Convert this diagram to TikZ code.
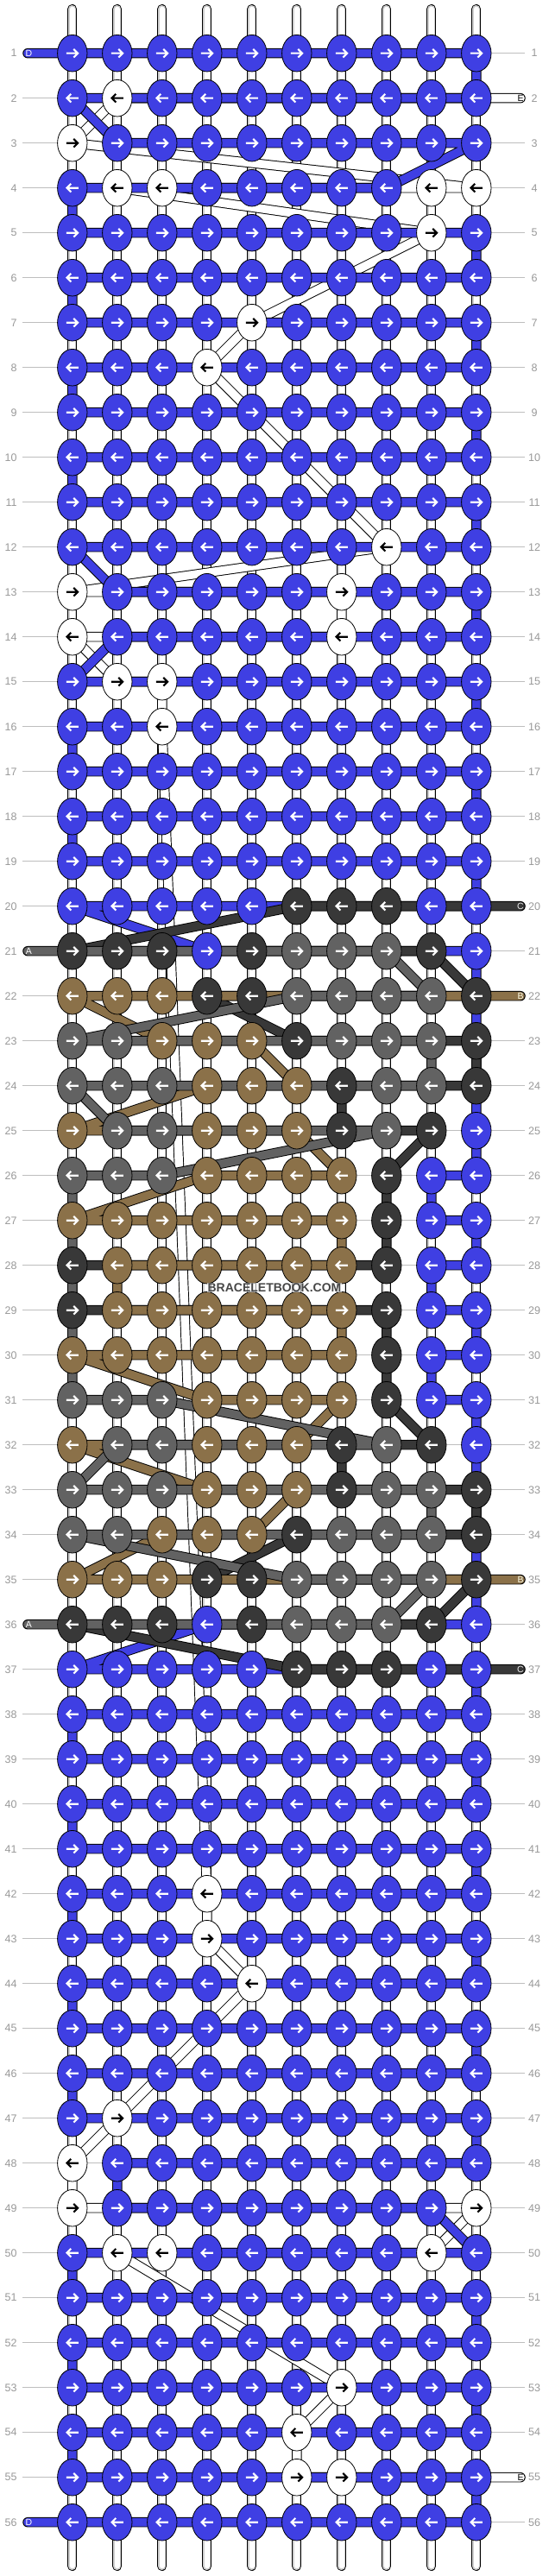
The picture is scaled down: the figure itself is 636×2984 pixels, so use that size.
\documentclass[tikz,border=0pt]{standalone}
\usepackage{fontspec}
\setmainfont{Liberation Sans}
\usetikzlibrary{shapes.geometric}
\definecolor{cB}{HTML}{3F3FE3}
\definecolor{cK}{HTML}{383838}
\definecolor{cG}{HTML}{626262}
\definecolor{cN}{HTML}{8B7149}
\definecolor{lblgray}{HTML}{999999}
\definecolor{guidegray}{HTML}{BEBEBE}
\definecolor{warpgray}{HTML}{CFCFCF}
\definecolor{wmgray}{HTML}{474747}
\makeatletter
\newcounter{kcol}
\newcommand\setrow[2]{\setcounter{kcol}{0}\def\krow{#1}\@tfor\kch:=#2\do{\stepcounter{kcol}\expandafter\xdef\csname kc-\krow-\arabic{kcol}\endcsname{\kch}}}
\makeatother
\setrow{1}{bbbbbbbbbb}
\setrow{2}{bwbbbbbbbb}
\setrow{3}{wbbbbbbbbb}
\setrow{4}{bwwbbbbbww}
\setrow{5}{bbbbbbbbwb}
\setrow{6}{bbbbbbbbbb}
\setrow{7}{bbbbwbbbbb}
\setrow{8}{bbbwbbbbbb}
\setrow{9}{bbbbbbbbbb}
\setrow{10}{bbbbbbbbbb}
\setrow{11}{bbbbbbbbbb}
\setrow{12}{bbbbbbbwbb}
\setrow{13}{wbbbbbwbbb}
\setrow{14}{wbbbbbwbbb}
\setrow{15}{bwwbbbbbbb}
\setrow{16}{bbwbbbbbbb}
\setrow{17}{bbbbbbbbbb}
\setrow{18}{bbbbbbbbbb}
\setrow{19}{bbbbbbbbbb}
\setrow{20}{bbbbbkkkbb}
\setrow{21}{kkkbkgggkb}
\setrow{22}{nnnkkggggk}
\setrow{23}{ggnnnkgggk}
\setrow{24}{gggnnnkggk}
\setrow{25}{nggnnnkgkb}
\setrow{26}{gggnnnnkbb}
\setrow{27}{nnnnnnnkbb}
\setrow{28}{knnnnnnkbb}
\setrow{29}{knnnnnnkbb}
\setrow{30}{nnnnnnnkbb}
\setrow{31}{gggnnnnkbb}
\setrow{32}{nggnnnkgkb}
\setrow{33}{gggnnnkggk}
\setrow{34}{ggnnnkgggk}
\setrow{35}{nnnkkggggk}
\setrow{36}{kkkbkgggkb}
\setrow{37}{bbbbbkkkbb}
\setrow{38}{bbbbbbbbbb}
\setrow{39}{bbbbbbbbbb}
\setrow{40}{bbbbbbbbbb}
\setrow{41}{bbbbbbbbbb}
\setrow{42}{bbbwbbbbbb}
\setrow{43}{bbbwbbbbbb}
\setrow{44}{bbbbwbbbbb}
\setrow{45}{bbbbbbbbbb}
\setrow{46}{bbbbbbbbbb}
\setrow{47}{bwbbbbbbbb}
\setrow{48}{wbbbbbbbbb}
\setrow{49}{wbbbbbbbbw}
\setrow{50}{bwwbbbbbwb}
\setrow{51}{bbbbbbbbbb}
\setrow{52}{bbbbbbbbbb}
\setrow{53}{bbbbbbwbbb}
\setrow{54}{bbbbbwbbbb}
\setrow{55}{bbbbbwwbbb}
\setrow{56}{bbbbbbbbbb}
% build the path of one thread through the knots of its colour, in tying order
\newcommand\buildthread[1]{%
  \gdef\tpath{}%
  \foreach \r in {1,...,56}{%
    \ifodd\r\relax \gdef\myclist{1,2,3,4,5,6,7,8,9,10}\else\gdef\myclist{10,9,8,7,6,5,4,3,2,1}\fi
    \foreach \c in \myclist {%
      \edef\kc{\csname kc-\r-\c\endcsname}%
      \if#1\kc \xdef\tpath{\tpath -- (p\r-\c)}\fi
    }}}
\newcommand\drawthread[4]{%
  \buildthread{#1}%
  \edef\kcmd{\noexpand\draw[thrO] (#2)\tpath -- (#3); \noexpand\draw[thrF, draw=#4] (#2)\tpath -- (#3);}%
  \kcmd}
\begin{document}
\begin{tikzpicture}[x=1pt,y=-1pt,
  knot/.style={ellipse, draw=black, line width=0.8pt, minimum width=34.4pt, minimum height=42.6pt, inner sep=0pt},
  warpO/.style={line width=11pt, line cap=round, draw=black},
  warpM/.style={line width=9.2pt, line cap=round, draw=warpgray},
  warpI/.style={line width=5.5pt, line cap=round, draw=white},
  thrO/.style={line width=11.5pt, line cap=round, line join=round, draw=black},
  thrF/.style={line width=9.6pt, line cap=round, line join=round},
  guideline/.style={draw=guidegray, line width=1pt},
  rowlbl/.style={text=lblgray, font=\fontsize{12.5}{13}\selectfont, inner sep=0pt},
  tlbl/.style={font=\fontsize{10.5}{11}\selectfont, inner sep=0pt},
  arrowst/.style={line width=2.1pt, line join=miter, line cap=butt}
]
\useasboundingbox (0,0) rectangle (636,2984);
\fill[white] (0,0) rectangle (636,2984);
% knot positions
\foreach \r in {1,...,56}{\foreach \c in {1,...,10}{%
  \coordinate (p\r-\c) at ({83.8+52*(\c-1)},{61.7+52*(\r-1)});}}
% guide lines and row numbers
\foreach \r in {1,...,56}{%
  \coordinate (gl\r) at (26,{61.7+52*(\r-1)});
  \coordinate (gr\r) at (608,{61.7+52*(\r-1)});
  \draw[guideline] (gl\r) -- (gr\r);
  \node[rowlbl, anchor=east] (ll\r) at (19.8,{61.7+52*(\r-1)}) {\r};
  \node[rowlbl] (rl\r) at (619,{61.7+52*(\r-1)}) {\r};
}
% warp strings
\foreach \c in {1,...,10}{%
  \coordinate (wt\c) at ({83.8+52*(\c-1)},10.5);
  \coordinate (wb\c) at ({83.8+52*(\c-1)},2972.5);
  \draw[warpO] (wt\c) -- (wb\c);
  \draw[warpM] (wt\c) -- (wb\c);
  \draw[warpI] (wt\c) -- (wb\c);
}
% thread ends
\coordinate (Ds) at (32,61.7);     \coordinate (De) at (32,2921.7);
\coordinate (Es) at (603,113.7);   \coordinate (Ee) at (603,2869.7);
\coordinate (As) at (32,1101.7);   \coordinate (Ae) at (32,1881.7);
\coordinate (Bs) at (603,1153.7);  \coordinate (Be) at (603,1829.7);
\coordinate (Cs) at (603,1049.7);  \coordinate (Ce) at (603,1933.7);
% threads, bottom to top
\drawthread{w}{Es}{Ee}{white}
\drawthread{b}{Ds}{De}{cB}
\drawthread{k}{Cs}{Ce}{cK}
\drawthread{n}{Bs}{Be}{cN}
\drawthread{g}{As}{Ae}{cG}
% thread letters
\node[tlbl, text=white, xshift=1.5pt] (tD1) at (Ds) {D};
\node[tlbl, text=white, xshift=1.5pt] (tD2) at (De) {D};
\node[tlbl, text=white, xshift=1.5pt] (tA1) at (As) {A};
\node[tlbl, text=white, xshift=1.5pt] (tA2) at (Ae) {A};
\node[tlbl, text=black] (tE1) at (Es) {E};
\node[tlbl, text=black] (tE2) at (Ee) {E};
\node[tlbl, text=white!90!yellow] (tB1) at (Bs) {B};
\node[tlbl, text=white!90!yellow] (tB2) at (Be) {B};
\node[tlbl, text=white!85!gray] (tC1) at (Cs) {C};
\node[tlbl, text=white!85!gray] (tC2) at (Ce) {C};
% knots with arrows
\foreach \r in {1,...,56}{\foreach \c in {1,...,10}{%
  \edef\kc{\csname kc-\r-\c\endcsname}%
  \if b\kc \def\fc{cB}\def\ac{white}\fi
  \if w\kc \def\fc{white}\def\ac{black}\fi
  \if k\kc \def\fc{cK}\def\ac{white}\fi
  \if g\kc \def\fc{cG}\def\ac{white}\fi
  \if n\kc \def\fc{cN}\def\ac{white}\fi
  \ifodd\r\relax\def\dir{1}\else\def\dir{-1}\fi
  \node[knot, fill=\fc] (k\r-\c) at (p\r-\c) {};
  \draw[arrowst, draw=\ac, shift={(p\r-\c)}, xscale=\dir] (-7,0) -- (6,0) (1.5,-4.8) -- (6.3,0) -- (1.5,4.8);
}}
% watermark
\node[font=\bfseries\fontsize{14}{14}\selectfont, text=wmgray, fill=white, fill opacity=0.6, text opacity=1, inner sep=1pt] (wm) at (318,1491.5) {BRACELETBOOK.COM};
\end{tikzpicture}
\end{document}
